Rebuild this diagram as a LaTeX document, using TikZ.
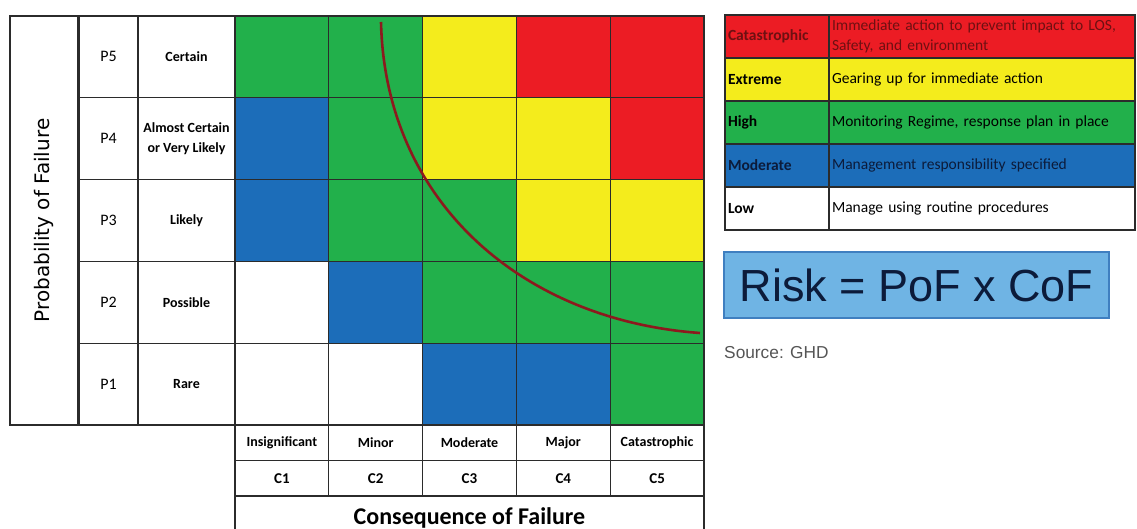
\documentclass[tikz,border=0pt]{standalone}
\usepackage{fontspec}
\setmainfont{Carlito}
\newfontfamily\dejavu{DejaVu Sans}
\newfontfamily\arial{Liberation Sans}
\usetikzlibrary{positioning}
\definecolor{rgreen}{HTML}{22B04B}
\definecolor{rblue}{HTML}{1C6DB9}
\definecolor{ryellow}{HTML}{F4EC1C}
\definecolor{rred}{HTML}{EC1C24}
\definecolor{tolline}{HTML}{8C1A1E}
\definecolor{gridgray}{HTML}{2B2B2B}
\definecolor{boxblue}{HTML}{6FB4E4}
\definecolor{boxedge}{HTML}{3F7FC0}
\definecolor{navytext}{HTML}{0C1B3A}
\definecolor{redtext}{HTML}{6E1012}
\definecolor{srcgray}{HTML}{555555}

\begin{document}
\begin{tikzpicture}[x=1pt, y=-1pt,
	cell/.style={draw=gridgray, line width=1.3pt, outer sep=0pt, inner sep=0pt, minimum width=93.8pt, minimum height=81.8pt},
	rowcell/.style={cell, align=center, font=\bfseries\fontsize{14}{20}\selectfont},
	colcell/.style={cell, minimum height=35.5pt, font=\bfseries\fontsize{14}{16}\selectfont},
	keyname/.style={draw=gridgray, line width=1.3pt, outer sep=0pt, inner sep=3pt, minimum height=43pt, text width=98pt, align=left, font=\bfseries\fontsize{15.5}{18}\selectfont},
	keydesc/.style={keyname, text width=300pt, font=\fontsize{15.5}{20}\selectfont}
]
	\useasboundingbox (0,0) rectangle (1137,529);
	% risk matrix, P5 on top
	\foreach \r/\cols in {5/{rgreen,rgreen,ryellow,rred,rred}, 4/{rblue,rgreen,ryellow,ryellow,rred}, 3/{rblue,rgreen,rgreen,ryellow,ryellow}, 2/{white,rblue,rgreen,rgreen,rgreen}, 1/{white,white,rblue,rblue,rgreen}}
		\foreach \fc [count=\c] in \cols
			\node[cell, fill=\fc] (m\r\c) at ({235+93.8*(\c-0.5)}, {16+81.8*(5.5-\r)}) {};
	\foreach \r/\desc in {5/Certain, 4/{Almost Certain\\or Very Likely}, 3/Likely, 2/Possible, 1/Rare} {
		\node[rowcell, minimum width=97pt, left=0pt of m\r1] (pdesc\r) {\desc};
		\node[rowcell, minimum width=59pt, left=0pt of pdesc\r, font=\fontsize{16}{18}\selectfont] (plev\r) {P\r};
	}
	\node[cell, rotate=90, minimum width=409pt, minimum height=68pt, font=\dejavu\fontsize{20}{22}\selectfont] (pof) at (44,220.5) {Probability of Failure};
	\foreach \c/\name in {1/Insignificant, 2/Minor, 3/Moderate, 4/Major, 5/Catastrophic} {
		\node[colcell, below=0pt of m1\c] (cname\c) {\name};
		\node[colcell, below=0pt of cname\c, font=\bfseries\fontsize{15}{17}\selectfont] (ccode\c) {C\c};
	}
	\node[colcell, minimum width=469pt, minimum height=44pt, font=\bfseries\fontsize{24}{26}\selectfont, below=0pt of ccode3] (cof) {Consequence of Failure};
	% tolerability curve
	\draw[tolline, line width=2.6pt] (381,22) .. controls (385,200) and (520,320) .. (700,333);
	% legend
	\foreach \fc/\tc/\name/\desc [count=\i] in {rred/redtext/Catastrophic/{Immediate action to prevent impact to LOS,\\Safety, and environment}, ryellow/black/Extreme/Gearing up for immediate action, rgreen/black/High/{Monitoring Regime, response plan in place}, rblue/navytext/Moderate/Management responsibility specified, white/black/Low/Manage using routine procedures} {
		\node[keyname, fill=\fc, text=\tc, anchor=north west] (key\i) at (725,{15+43*(\i-1)}) {\name};
		\node[keydesc, fill=\fc, text=\tc, right=0pt of key\i] (kdesc\i) {\desc};
	}
	\node[draw=boxedge, fill=boxblue, line width=1.3pt, minimum width=385pt, minimum height=66pt, text=navytext, font=\arial\fontsize{45}{48}\selectfont] (risk) at (916.5,285) {Risk = PoF x CoF};
	\node[anchor=west, inner sep=0pt, text=srcgray, font=\arial\fontsize{17.3}{19}\selectfont] (src) at (724,353) {Source: GHD};
\end{tikzpicture}
\end{document}
